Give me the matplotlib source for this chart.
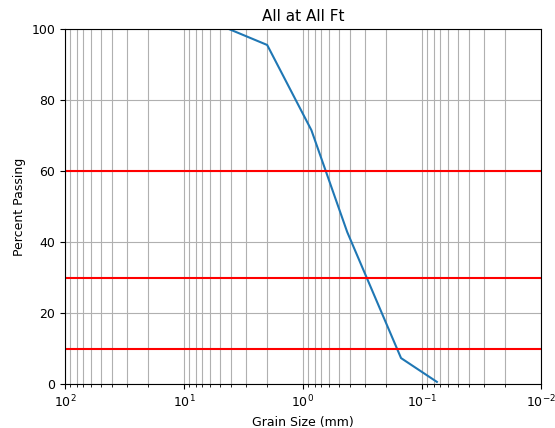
import numpy as np
import matplotlib.pyplot as plt

plt.rcParams['font.size'] = 9

# sieve sizes (mm) and percent passing
grain_size = [4.2, 2.0, 0.85, 0.425, 0.15, 0.075]
percent_passing = [100.0, 95.5, 71.5, 42.8, 7.3, 0.6]
ref_lines = [60, 30, 10]

fig = plt.figure(figsize=(5.55, 4.28), dpi=100)
ax = fig.add_axes([65 / 555, 1 - 384 / 428, 476 / 555, 355 / 428])

ax.plot(grain_size, percent_passing, color='#1f77b4', linewidth=1.5)
for y in ref_lines:
    ax.axhline(y, color='red', linewidth=1.5)

ax.set_xscale('log')
ax.set_xlim(100, 0.01)
ax.set_ylim(0, 100)
ax.grid(True, which='both', color='#b0b0b0', linewidth=0.8)
ax.set_axisbelow(True)

ax.set_xlabel('Grain Size (mm)')
ax.set_ylabel('Percent Passing')
ax.set_title('All at All Ft', fontsize=11)

fig.savefig('out.png', dpi=100)
